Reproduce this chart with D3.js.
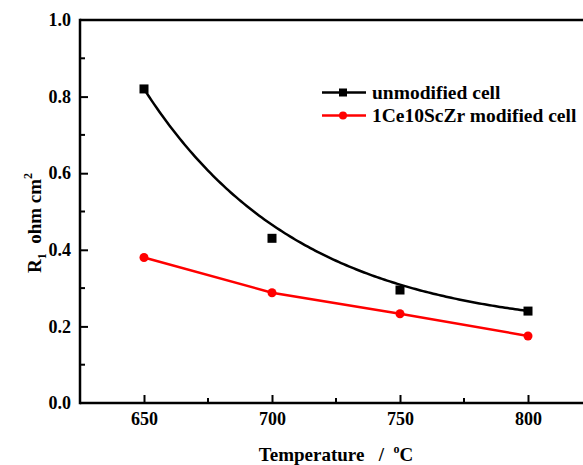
<!DOCTYPE html>
<html>
<head>
<meta charset="utf-8">
<script src="https://cdn.jsdelivr.net/npm/d3@7"></script>
<style>
  html, body { margin: 0; padding: 0; background: #fff; }
  svg { display: block; }
</style>
</head>
<body>
<svg id="chart" width="583" height="465"></svg>
<script>
// Temperatures (°C) and polarization resistance R1 (ohm cm2)
const temperatures = [650, 700, 750, 800];
const unmodifiedR = [0.82, 0.43, 0.295, 0.24];
const modifiedR = [0.38, 0.288, 0.233, 0.175];
const seriesNames = ["unmodified cell", "1Ce10ScZr modified cell"];
const xTicks = [650, 700, 750, 800];
const yTicks = [0.0, 0.2, 0.4, 0.6, 0.8, 1.0];
// First-order exponential decay fit for the unmodified cell: y = y0 + A*exp(-(T-650)/t)
const decayFit = { y0: 0.186, A: 0.634, t: 61 };

const FONT = '"Liberation Serif", "Times New Roman", Times, serif';
const svg = d3.select("#chart");
const plotLeft = 80, plotTop = 20, plotBottom = 403;

const x = d3.scaleLinear().domain([625, 850]).range([plotLeft, plotLeft + 225 * 2.56]);
const y = d3.scaleLinear().domain([0, 1]).range([plotBottom, plotTop]);

const axisStroke = 2.5;

function styleText(sel, size) {
  return sel.attr("font-family", FONT).style("font-family", FONT).style("font-weight", "bold")
    .style("font-size", size + "px").style("fill", "#000").style("white-space", "pre");
}

// frame: left, bottom, top (right side runs off the canvas)
svg.append("line").attr("x1", plotLeft).attr("x2", 700).attr("y1", plotBottom).attr("y2", plotBottom)
  .attr("stroke", "#000").attr("stroke-width", axisStroke);
svg.append("line").attr("x1", plotLeft).attr("x2", 700).attr("y1", plotTop).attr("y2", plotTop)
  .attr("stroke", "#000").attr("stroke-width", axisStroke);
svg.append("line").attr("x1", plotLeft).attr("x2", plotLeft).attr("y1", plotTop - 1.25).attr("y2", plotBottom + 1.25)
  .attr("stroke", "#000").attr("stroke-width", axisStroke);

// bottom axis ticks (inward)
const xAxis = d3.axisBottom(x).tickValues(xTicks).tickSizeInner(-8).tickSizeOuter(0).tickPadding(9);
const gx = svg.append("g").attr("transform", `translate(0,${plotBottom})`).call(xAxis);
gx.attr("font-family", FONT);
gx.select(".domain").remove();
gx.selectAll(".tick line").attr("stroke-width", 2);
styleText(gx.selectAll(".tick text"), 18);
// minor x ticks
svg.append("g").selectAll("line").data([675, 725, 775, 825]).join("line")
  .attr("x1", d => x(d)).attr("x2", d => x(d)).attr("y1", plotBottom).attr("y2", plotBottom - 5)
  .attr("stroke", "#000").attr("stroke-width", 2);

// left axis ticks (inward)
const yAxis = d3.axisLeft(y).tickValues(yTicks).tickFormat(d3.format(".1f"))
  .tickSizeInner(-8).tickSizeOuter(0).tickPadding(9);
const gy = svg.append("g").attr("transform", `translate(${plotLeft},0)`).call(yAxis);
gy.attr("font-family", FONT);
gy.select(".domain").remove();
gy.selectAll(".tick line").attr("stroke-width", 2);
styleText(gy.selectAll(".tick text"), 18);
gy.selectAll(".tick").filter(d => d === 1.0 || d === 0.0).select("line").remove();
// minor y ticks
svg.append("g").selectAll("line").data([0.1, 0.3, 0.5, 0.7, 0.9]).join("line")
  .attr("x1", plotLeft).attr("x2", plotLeft + 5).attr("y1", d => y(d)).attr("y2", d => y(d))
  .attr("stroke", "#000").attr("stroke-width", 2);

// axis titles
const xt = styleText(svg.append("text").attr("x", 336).attr("y", 461).attr("text-anchor", "middle"), 19);
xt.append("tspan").text("Temperature   /  ");
xt.append("tspan").attr("dy", -8).style("font-size", "12px").text("o");
xt.append("tspan").attr("dy", 8).text("C");

const yt = styleText(svg.append("text").attr("transform", "translate(41,223) rotate(-90)")
  .attr("text-anchor", "middle"), 19);
yt.append("tspan").text("R");
yt.append("tspan").attr("dy", 5).style("font-size", "12px").text("1");
yt.append("tspan").attr("dy", -5).text("  ohm cm");
yt.append("tspan").attr("dy", -9).style("font-size", "12px").text("2");

const plot = svg.append("g");

// unmodified: fitted decay curve
const fitDomain = d3.range(temperatures[0], temperatures[temperatures.length - 1] + 0.5, 1);
const fitLine = d3.line()
  .x(d => x(d))
  .y(d => y(decayFit.y0 + decayFit.A * Math.exp(-(d - 650) / decayFit.t)));
plot.append("path").datum(fitDomain).attr("d", fitLine)
  .attr("fill", "none").attr("stroke", "#000").attr("stroke-width", 2.5);

plot.append("g").selectAll("rect").data(temperatures).join("rect")
  .attr("x", d => x(d) - 4.5).attr("y", (d, i) => y(unmodifiedR[i]) - 4.5)
  .attr("width", 9).attr("height", 9).attr("fill", "#000");

// modified: line through points
const modLine = d3.line().x((d, i) => x(temperatures[i])).y(d => y(d));
plot.append("path").datum(modifiedR).attr("d", modLine)
  .attr("fill", "none").attr("stroke", "#ff0000").attr("stroke-width", 2.5);
plot.append("g").selectAll("circle").data(modifiedR).join("circle")
  .attr("cx", (d, i) => x(temperatures[i])).attr("cy", d => y(d)).attr("r", 4.5)
  .attr("fill", "#ff0000");

// legend
const legend = svg.append("g");
const legendRows = [
  { name: seriesNames[0], color: "#000", shape: "square", cy: 92.5 },
  { name: seriesNames[1], color: "#ff0000", shape: "circle", cy: 115.5 }
];
legendRows.forEach(r => {
  legend.append("line").attr("x1", 322).attr("x2", 366).attr("y1", r.cy).attr("y2", r.cy)
    .attr("stroke", r.color).attr("stroke-width", 2.5);
  if (r.shape === "square") {
    legend.append("rect").attr("x", 343 - 4).attr("y", r.cy - 4).attr("width", 8).attr("height", 8).attr("fill", r.color);
  } else {
    legend.append("circle").attr("cx", 343).attr("cy", r.cy).attr("r", 4).attr("fill", r.color);
  }
  styleText(legend.append("text").attr("x", 372).attr("y", r.cy + 6), 19.5).text(r.name);
});
</script>
</body>
</html>
